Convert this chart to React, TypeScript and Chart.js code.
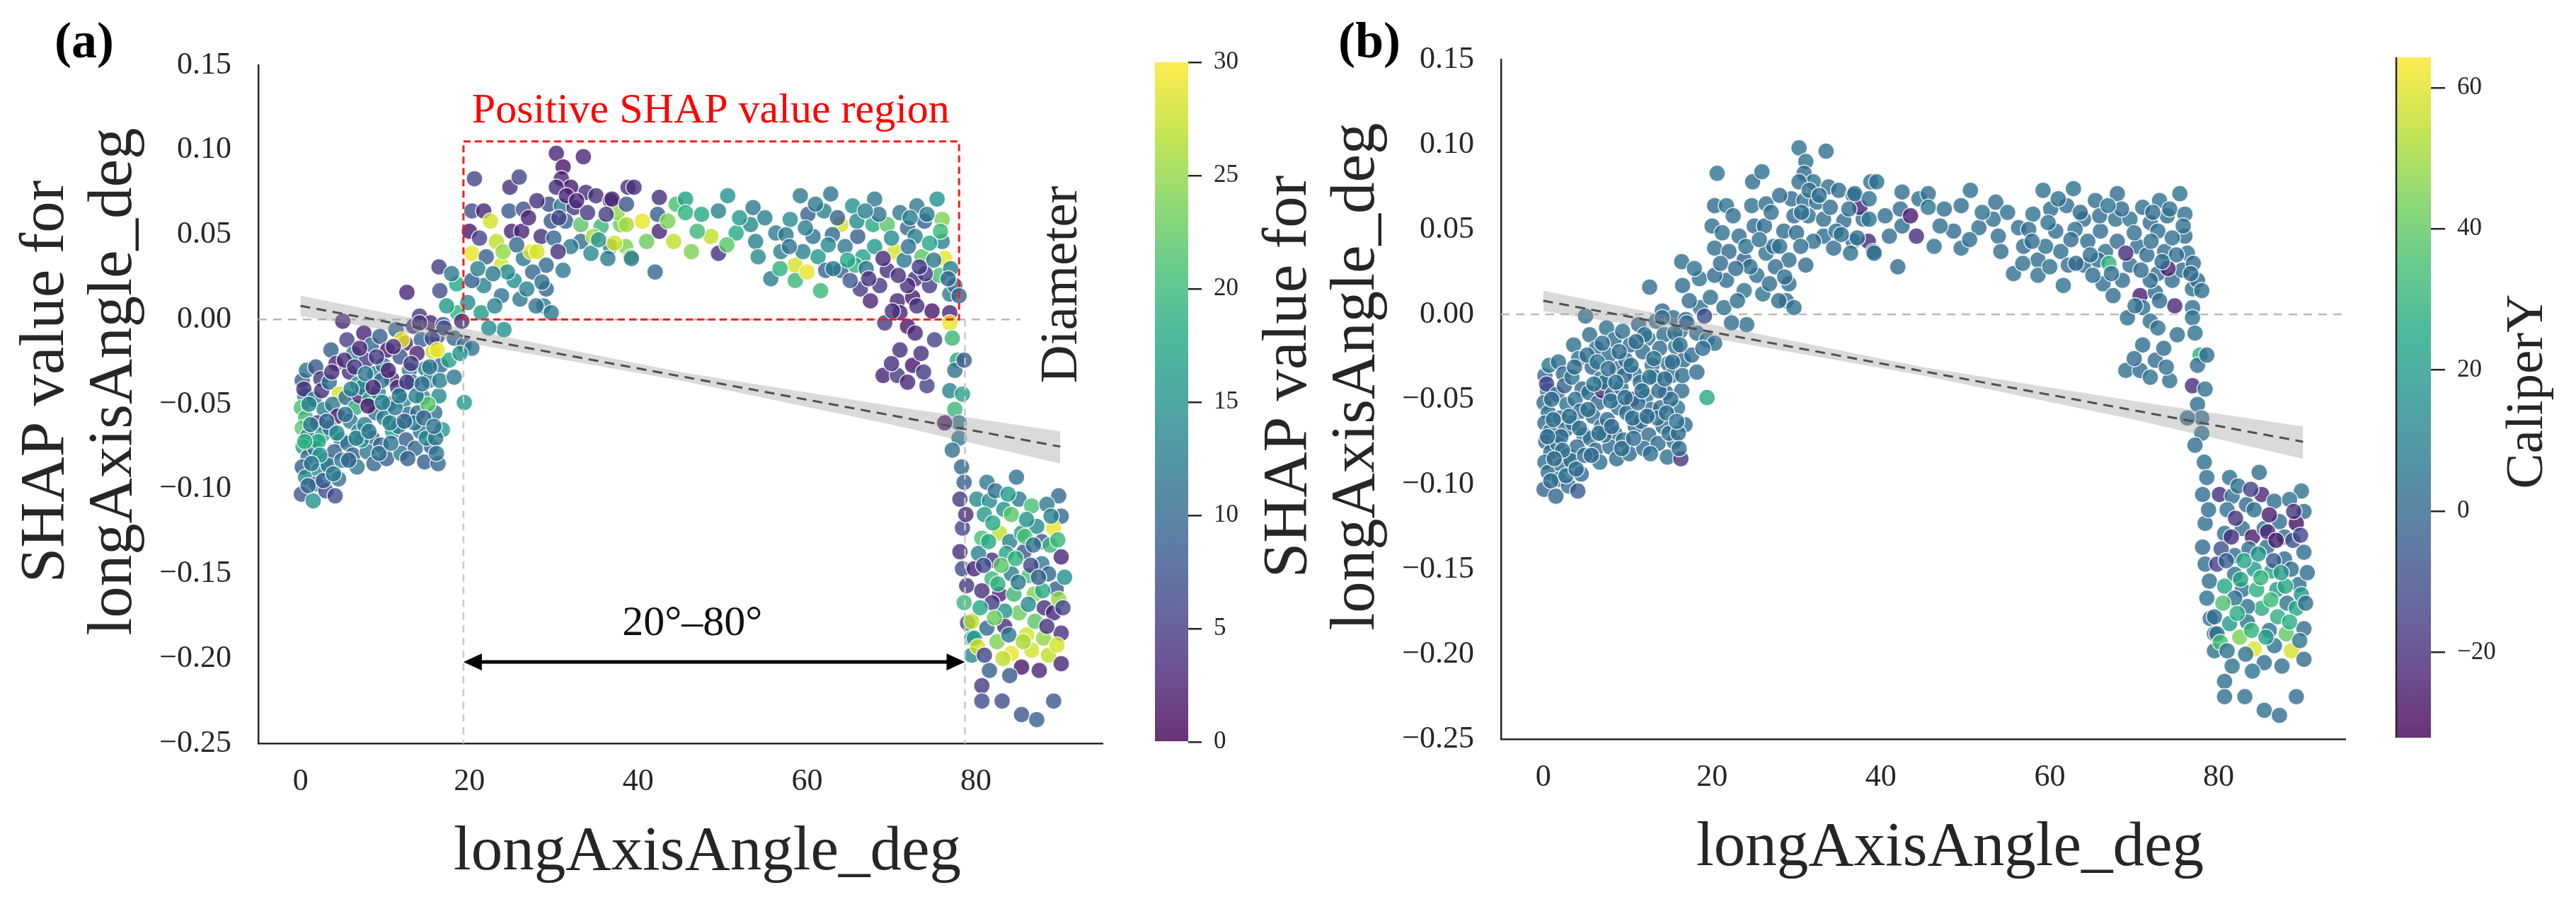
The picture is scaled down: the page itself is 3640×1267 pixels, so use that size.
import { useEffect, useRef } from 'react'
import { Chart, registerables } from 'chart.js'

Chart.register(...registerables)

const SERIF = "'Liberation Serif', 'Times New Roman', serif"
const INK = '#262626'
const PAGE_H = 1267

// rows: [longAxisAngle_deg, SHAP value, Diameter, CaliperY]
const lowAngleRows = [
  [0.2, -0.036, 9, 2], [0.5, -0.045, 14, 4], [0.1, -0.052, 21, 1], [0.6, -0.058, 20, 3], [0.2, -0.064, 22, 0],
  [0.8, -0.069, 12, 5], [0.3, -0.075, 17, 2], [0.9, -0.081, 10, 1], [0.2, -0.087, 9, 3], [0.6, -0.093, 14, 2],
  [0.1, -0.103, 8, 0], [0.7, -0.030, 11, 6], [0.4, -0.041, 4, -12],
  [1.8, -0.028, 8, 3], [2.4, -0.035, 5, 1], [1.6, -0.047, 12, 2], [2.8, -0.053, 13, 4], [2.0, -0.061, 3, 0],
  [2.6, -0.068, 16, 2], [1.7, -0.076, 12, 5], [2.9, -0.083, 11, 1], [2.2, -0.089, 14, 3], [1.9, -0.097, 10, 2],
  [1.5, -0.107, 15, 0], [3.0, -0.101, 7, 4], [2.5, -0.042, 4, -2],
  [3.6, -0.018, 9, 3], [4.2, -0.026, 3, 2], [3.4, -0.037, 11, 5], [4.6, -0.044, 28, 1], [3.8, -0.050, 12, 4],
  [4.4, -0.057, 2, 0], [3.5, -0.064, 10, 3], [4.8, -0.071, 13, 2], [4.0, -0.078, 9, 1], [3.3, -0.086, 12, 3],
  [4.5, -0.094, 11, 2], [4.1, -0.104, 7, -5], [5.0, -0.001, 3, 4],
  [5.5, -0.012, 6, 2], [6.3, -0.020, 13, 3], [5.8, -0.031, 4, 1], [6.8, -0.038, 15, 5], [5.4, -0.046, 10, 2],
  [6.5, -0.052, 19, 0], [5.9, -0.060, 12, 3], [6.9, -0.066, 14, 2], [5.6, -0.073, 11, 4], [6.2, -0.080, 9, 1],
  [6.7, -0.087, 12, 3], [7.0, -0.045, 3, -20],
  [7.5, -0.008, 3, 4], [8.4, -0.015, 10, 2], [7.8, -0.024, 5, 3], [8.8, -0.032, 12, 1], [7.3, -0.040, 14, 5],
  [8.2, -0.047, 18, 2], [8.9, -0.055, 11, 3], [7.6, -0.062, 13, 0], [8.5, -0.070, 9, 4], [7.9, -0.078, 12, 2],
  [8.7, -0.085, 10, 1],
  [9.4, -0.010, 9, 3], [10.3, -0.018, 2, 1], [9.8, -0.027, 12, 2], [10.8, -0.035, 4, 4], [9.2, -0.043, 14, 3],
  [10.5, -0.050, 8, -24], [9.9, -0.058, 12, 2], [10.9, -0.066, 16, 1], [9.5, -0.074, 10, 3], [10.2, -0.082, 9, 2],
  [11.3, -0.006, 10, 2], [12.4, -0.014, 3, 4], [11.8, -0.022, 8, 1], [12.9, -0.030, 12, 3], [11.5, -0.040, 4, 2],
  [12.2, -0.048, 14, 5], [12.8, -0.056, 11, 0], [11.6, -0.063, 13, 3], [12.5, -0.071, 9, 2], [11.9, -0.079, 12, 1],
  [12.0, -0.012, 29, 4],
  [13.4, -0.004, 4, 3], [14.3, -0.012, 9, 2], [13.8, -0.020, 3, 1], [14.8, -0.029, 12, 4], [13.2, -0.037, 10, 2],
  [14.5, -0.046, 13, -3], [13.9, -0.055, 11, 3], [14.2, -0.066, 12, 1], [13.6, -0.076, 10, 2], [14.7, -0.084, 9, 4],
  [14.1, 0.002, 5, 2],
  [15.4, -0.002, 3, 3], [16.2, -0.010, 8, 2], [15.7, -0.019, 27, 4], [16.6, -0.027, 10, 1], [15.2, -0.036, 12, 3],
  [16.4, -0.045, 14, 2], [15.9, -0.055, 11, 5], [16.8, -0.065, 16, 1], [15.5, -0.075, 9, 3], [16.3, -0.085, 10, -18],
  [16.9, -0.003, 9, 2],
  [1.0, -0.050, 13, 2], [2.1, -0.072, 18, 1], [3.1, -0.060, 10, 3], [4.9, -0.083, 12, 2], [6.0, -0.041, 13, 4],
  [7.2, -0.071, 15, 2], [8.0, -0.051, 2, 3], [9.6, -0.036, 11, 1], [10.6, -0.061, 13, 3], [11.2, -0.052, 12, 2],
  [12.6, -0.037, 5, 4], [13.5, -0.061, 12, 1], [14.9, -0.070, 13, 3], [16.0, -0.070, 12, 2], [15.1, -0.050, 22, 1],
  [2.3, -0.080, 16, 4], [0.9, -0.098, 10, 2], [5.2, -0.024, 4, 3], [7.0, -0.017, 3, 2], [9.0, -0.022, 5, 1],
  [0.5, -0.072, 19, 2], [1.2, -0.062, 13, 3], [1.3, -0.085, 12, 1], [2.7, -0.095, 9, 4], [3.9, -0.091, 12, 2],
  [4.3, -0.067, 14, 3], [5.3, -0.056, 11, 1], [5.7, -0.083, 10, 2], [6.4, -0.028, 5, 4], [6.6, -0.070, 13, 3],
  [7.7, -0.032, 12, 2], [8.1, -0.066, 12, 1], [8.6, -0.040, 3, 3], [9.3, -0.079, 11, 2], [9.7, -0.049, 13, 4],
  [10.4, -0.030, 3, 3], [10.7, -0.073, 11, 2], [11.0, -0.016, 4, 1], [11.7, -0.045, 12, 3], [12.3, -0.060, 10, 2],
  [12.7, -0.082, 9, 4], [13.1, -0.026, 5, 3], [13.7, -0.045, 13, 2], [14.4, -0.038, 11, 1], [14.6, -0.058, 10, 3],
  [15.3, -0.028, 12, 2], [15.8, -0.063, 11, 4], [16.5, -0.036, 13, 3], [16.1, -0.079, 12, 2], [3.7, -0.031, 4, 1],
]

const transitionRows = [
  [12.6, 0.016, 3, 2], [16.4, 0.031, 5, 3], [16.5, 0.017, 7, 2], [18.5, 0.021, 18, 4], [18.6, 0.004, 19, 3],
  [19.1, -0.001, 4, -10], [14.1, -0.002, 4, 2], [15.6, -0.011, 6, 3], [17.0, -0.005, 7, 1], [18.2, -0.011, 10, 2],
  [19.4, -0.015, 9, 4], [20.3, -0.017, 11, 3], [17.6, -0.024, 17, 2], [18.2, -0.034, 12, 1], [19.4, -0.049, 16, 26],
  [16.2, -0.018, 29, 3], [17.3, 0.008, 16, 2], [17.9, 0.027, 12, 4], [19.8, 0.010, 14, 3], [18.9, -0.020, 15, 2],
]

const risingRows = [
  [20.6, 0.083, 6, 4], [24.8, 0.078, 4, 2], [25.9, 0.084, 6, 3], [20.3, 0.064, 7, 1], [21.7, 0.064, 3, 5],
  [20.0, 0.052, 2, 3], [25.0, 0.052, 3, 2], [26.2, 0.052, 3, 1], [24.7, 0.064, 8, 4], [26.4, 0.065, 7, 3],
  [28.5, 0.049, 4, 2], [23.8, 0.032, 28, -2], [20.3, 0.039, 29, 3], [22.0, 0.037, 9, 1], [26.4, 0.036, 12, 4],
  [27.3, 0.040, 29, 2], [29.1, 0.032, 10, 3], [31.1, 0.029, 12, 1], [21.7, 0.020, 13, 2], [25.3, 0.023, 15, 3],
  [23.8, 0.014, 11, 4], [29.1, 0.018, 10, 2], [28.8, 0.008, 13, 1], [29.7, 0.004, 12, 3], [27.9, 0.008, 11, 2],
  [21.4, 0.004, 16, 4], [24.1, -0.006, 15, 3], [22.3, -0.005, 14, 2], [20.3, 0.023, 9, 1], [30.3, 0.098, 3, 4],
  [33.5, 0.096, 3, 2], [31.1, 0.090, 2, 3], [30.9, 0.083, 3, 1], [32.0, 0.078, 2, 5], [30.3, 0.078, 4, 2],
  [33.8, 0.075, 4, 3], [35.0, 0.073, 4, 1], [36.7, 0.070, 4, 2], [38.8, 0.078, 4, 3], [29.4, 0.068, 7, 2],
  [30.9, 0.067, 12, 4], [32.4, 0.066, 5, 3], [29.7, 0.058, 8, 1], [31.4, 0.058, 9, 2], [33.2, 0.056, 22, 3],
  [35.6, 0.055, 20, 2], [37.9, 0.056, 23, 4], [33.2, 0.046, 11, 1], [34.7, 0.049, 26, 3], [36.7, 0.043, 13, 2],
  [38.5, 0.043, 24, -22], [32.0, 0.043, 12, 3], [34.4, 0.039, 14, 2], [36.4, 0.036, 12, 4], [39.1, 0.037, 23, 2],
  [22.5, 0.058, 28, 3], [23.2, 0.046, 27, 2], [27.0, 0.060, 3, 4], [28.0, 0.070, 4, 1], [21.0, 0.030, 13, 2],
  [24.5, 0.028, 14, 3], [27.5, 0.028, 10, 2], [30.0, 0.048, 10, 1], [26.0, 0.012, 12, 4], [23.0, 0.008, 13, 2],
  [31.5, 0.073, 3, 3], [34.0, 0.063, 5, 2], [37.5, 0.063, 25, -24], [28.0, 0.040, 28, 3], [30.5, 0.040, 4, 2],
  [21.2, 0.048, 6, 3], [22.8, 0.027, 12, 2], [24.0, 0.040, 25, 4], [25.6, 0.044, 10, 3], [26.8, 0.018, 13, 2],
  [28.6, 0.022, 11, 1], [30.6, 0.060, 6, 3], [32.7, 0.070, 3, 2], [35.3, 0.047, 15, 4], [36.2, 0.062, 5, 3],
]

const plateauRows = [
  [39.5, 0.078, 4, 3], [36.9, 0.071, 3, 2], [38.6, 0.068, 8, 4], [42.5, 0.072, 4, 3], [42.3, 0.062, 9, 2],
  [42.5, 0.052, 3, 1], [44.5, 0.068, 21, 3], [45.6, 0.071, 17, 2], [45.6, 0.063, 19, 5], [47.5, 0.062, 18, 3],
  [49.5, 0.064, 13, 2], [50.6, 0.073, 15, 4], [49.5, 0.039, 4, 3], [48.6, 0.049, 27, 2], [44.2, 0.046, 27, -20],
  [46.3, 0.040, 24, 3], [41.0, 0.046, 23, 2], [38.6, 0.056, 26, 4], [37.2, 0.045, 28, 3], [39.2, 0.036, 12, 2],
  [42.0, 0.028, 10, 1], [51.6, 0.051, 18, 3], [53.6, 0.066, 12, 2], [53.3, 0.056, 14, 4], [53.9, 0.046, 13, 3],
  [54.2, 0.037, 14, 2], [55.7, 0.024, 12, 3], [40.5, 0.058, 29, 2], [43.5, 0.058, 24, -25], [47.0, 0.052, 20, 3],
  [52.0, 0.060, 16, 4], [50.5, 0.044, 22, 2], [55.0, 0.060, 13, 3],
]

const highPlateauRows = [
  [56.3, 0.051, 12, 3], [56.9, 0.040, 13, 2], [58.0, 0.059, 14, 4], [59.2, 0.073, 12, 3], [60.1, 0.062, 9, 2],
  [60.7, 0.049, 11, 1], [61.3, 0.037, 16, 3], [58.6, 0.032, 28, 2], [58.6, 0.023, 20, 4], [61.6, 0.017, 20, 3],
  [62.2, 0.029, 10, 2], [62.8, 0.074, 11, 4], [64.0, 0.056, 28, 3], [64.5, 0.043, 12, 2], [64.0, 0.029, 9, 1],
  [65.4, 0.067, 15, 3], [66.0, 0.049, 9, 2], [66.6, 0.037, 17, 4], [66.3, 0.018, 5, 3], [68.0, 0.071, 12, 2],
  [67.8, 0.056, 18, 3], [68.0, 0.043, 16, 1], [67.5, 0.011, 3, 2], [69.5, 0.056, 22, 4], [69.5, 0.029, 4, 3],
  [68.6, 0.020, 5, 2], [70.4, 0.040, 28, 3], [70.7, 0.011, 3, -24], [71.9, 0.054, 10, 2], [73.0, 0.067, 12, 4],
  [72.8, 0.049, 13, 3], [72.8, 0.024, 4, 2], [72.5, 0.013, 2, 1], [73.6, 0.037, 22, 3], [73.9, 0.058, 9, 2],
  [75.4, 0.071, 15, 4], [76.0, 0.059, 24, 3], [76.0, 0.046, 13, 2], [76.3, 0.036, 29, 3], [74.5, 0.020, 5, 2],
  [75.7, 0.026, 21, 1], [76.9, 0.015, 12, 3], [77.5, 0.020, 11, 2], [78.0, 0.014, 9, 4], [76.9, 0.004, 3, 3],
  [74.8, 0.005, 2, -22], [73.0, 0.008, 4, 2], [71.9, 0.020, 4, 1], [71.0, 0.004, 3, 3], [69.2, -0.002, 5, 2],
  [70.1, 0.005, 4, 4], [65.7, 0.032, 19, 3], [65.1, 0.023, 8, 2], [63.1, 0.030, 12, 1], [59.5, 0.040, 13, 3],
  [57.5, 0.050, 12, 2], [60.0, 0.028, 29, 4], [63.0, 0.050, 10, 3], [62.0, 0.064, 13, 2], [67.0, 0.030, 11, 30],
  [70.0, 0.048, 14, 3], [71.5, 0.035, 12, 2], [74.5, 0.045, 18, 4], [75.0, 0.035, 12, 3], [77.0, 0.030, 13, 2],
  [68.5, 0.062, 11, 1], [71.0, 0.063, 12, 3], [74.0, 0.027, 5, -25],
  [56.8, 0.030, 19, 3], [57.9, 0.043, 11, 2], [59.8, 0.054, 13, 4], [61.0, 0.068, 12, 3], [62.5, 0.044, 14, 2],
  [63.6, 0.060, 9, 1], [64.8, 0.035, 18, 3], [65.9, 0.058, 14, 2], [66.9, 0.064, 13, 4], [67.3, 0.024, 4, 3],
  [69.0, 0.036, 3, -20], [70.8, 0.026, 4, 2], [72.0, 0.043, 11, 3], [73.3, 0.031, 5, 2], [74.2, 0.062, 12, 4],
  [75.8, 0.052, 20, 3], [76.7, 0.024, 10, 2], [72.2, 0.060, 13, 1],
]

const dropRows = [
  [71.0, -0.018, 4, 2], [69.0, -0.033, 3, 3], [70.7, -0.033, 5, 2], [71.9, -0.037, 3, 4], [74.2, -0.039, 6, 3],
  [72.5, -0.027, 2, 2], [73.5, -0.020, 4, 1], [75.1, -0.012, 6, 3], [71.9, -0.004, 2, 2], [72.8, -0.008, 3, 4],
  [73.8, -0.031, 5, 3], [70.0, -0.026, 4, 2],
]

const edgeColumnRows = [
  [76.9, -0.002, 29, 3], [77.2, -0.011, 20, 4], [77.8, -0.024, 18, 28], [77.5, -0.030, 11, 3], [76.9, -0.042, 13, -20],
  [77.5, -0.053, 20, 2], [78.0, -0.061, 12, 3], [76.3, -0.061, 2, 1], [78.0, -0.070, 12, 4], [77.2, -0.077, 11, 2],
  [78.3, -0.087, 10, 3], [78.6, -0.024, 8, 2], [78.4, -0.044, 17, 5], [78.6, -0.096, 9, 3], [78.1, -0.106, 5, 2],
  [78.4, -0.123, 6, 3], [78.1, -0.137, 4, 1], [78.4, -0.147, 7, 2], [78.6, -0.167, 20, 4], [79.0, -0.179, 8, 3],
  [79.5, -0.188, 16, 2], [79.5, -0.198, 14, 5], [78.8, -0.115, 4, 3], [78.9, -0.157, 5, 2],
]

const highAngleRows = [
  [81.3, -0.096, 12, 3], [84.8, -0.093, 11, 2], [89.8, -0.104, 10, 4], [80.1, -0.106, 14, -20], [81.6, -0.107, 14, 3],
  [83.3, -0.112, 15, 2], [85.1, -0.106, 12, -22], [86.6, -0.110, 21, 1], [88.4, -0.109, 12, 3], [90.1, -0.116, 10, 2],
  [81.0, -0.115, 16, 4], [84.2, -0.115, 22, 3], [89.2, -0.123, 29, -28], [80.7, -0.129, 21, 2], [82.8, -0.126, 27, 3],
  [84.0, -0.131, 13, -25], [85.4, -0.126, 17, 4], [87.2, -0.122, 14, 2], [87.8, -0.131, 8, 3], [90.1, -0.140, 3, 1],
  [81.9, -0.142, 4, 2], [83.6, -0.138, 17, 3], [85.7, -0.137, 8, 4], [87.8, -0.144, 12, 2], [79.8, -0.147, 3, -15],
  [81.9, -0.153, 20, 3], [84.2, -0.150, 12, 20], [86.3, -0.151, 21, 22], [88.6, -0.150, 10, 2], [89.5, -0.159, 9, 3],
  [80.7, -0.160, 4, 25], [82.8, -0.162, 3, 3], [84.5, -0.162, 20, 28], [86.9, -0.162, 24, 20], [88.1, -0.170, 4, 5],
  [85.1, -0.173, 23, 27], [83.4, -0.172, 15, 4], [81.9, -0.167, 5, 3], [79.5, -0.178, 27, 2], [81.3, -0.182, 10, 20],
  [83.4, -0.181, 4, 5], [86.0, -0.186, 28, 3], [89.2, -0.173, 3, 24], [90.1, -0.185, 4, 2], [79.8, -0.188, 16, 3],
  [84.2, -0.197, 29, 60], [86.6, -0.195, 28, 4], [88.6, -0.198, 27, 58], [90.1, -0.203, 3, 2], [85.4, -0.205, 2, 2],
  [87.5, -0.207, 3, 3], [81.6, -0.207, 9, 4], [80.7, -0.216, 5, 2], [83.1, -0.225, 7, 3], [80.7, -0.225, 7, 2],
  [89.2, -0.225, 8, 1], [85.4, -0.233, 8, 3], [87.2, -0.236, 9, 2], [82.0, -0.120, 18, -18], [86.0, -0.118, 15, -24],
  [88.8, -0.133, 20, -10], [83.0, -0.145, 22, 25], [85.0, -0.155, 12, 30], [87.0, -0.178, 22, 28], [89.8, -0.165, 25, 18],
  [80.5, -0.170, 18, 36], [82.5, -0.190, 24, 45], [88.0, -0.188, 25, 40], [84.0, -0.210, 8, 4], [86.5, -0.145, 6, -5],
  [80.3, -0.138, 13, -8], [81.5, -0.131, 18, -20], [82.3, -0.101, 11, 3], [83.8, -0.103, 16, -15], [85.8, -0.128, 21, -22],
  [86.8, -0.133, 11, -26], [88.9, -0.116, 13, -18], [89.7, -0.130, 20, -12], [90.5, -0.152, 15, 3], [80.2, -0.193, 28, 35],
  [81.0, -0.198, 6, 4], [82.2, -0.176, 23, 27], [83.9, -0.186, 12, 30], [85.6, -0.190, 26, 22], [87.9, -0.160, 18, 25],
  [88.4, -0.181, 4, 28], [89.6, -0.192, 28, 5], [90.3, -0.170, 6, 3], [84.7, -0.141, 19, 18], [86.2, -0.168, 14, 33],
  [82.6, -0.156, 19, 24], [80.9, -0.145, 7, -3], [87.4, -0.152, 9, 20], [83.2, -0.200, 27, 3],
]

const allRows = [
  ...lowAngleRows, ...transitionRows, ...risingRows, ...plateauRows,
  ...highPlateauRows, ...dropRows, ...edgeColumnRows, ...highAngleRows,
]

const angleTicks = [0, 20, 40, 60, 80]
const shapTicks = [-0.25, -0.2, -0.15, -0.1, -0.05, 0, 0.05, 0.1, 0.15]
const diameterTicks = [0, 5, 10, 15, 20, 25, 30]
const caliperTicks = [-20, 0, 20, 40, 60]
const diameterRange = [0, 30]
const caliperRange = [-32.1, 64.3]

// linear fit and its confidence band
const trendAngle = [0, 90]
const trendShap = [0.008, -0.075]
const bandAngle = [0, 20, 45, 70, 90]
const bandUpper = [0.014, -0.006, -0.031, -0.051, -0.066]
const bandLower = [0.002, -0.014, -0.036, -0.062, -0.085]

// annotations in panel (a)
const regionStart = 19.3
const regionEnd = 78.7
const regionBoxRight = 78.0
const regionBoxTop = 0.105
const arrowShap = -0.202
const zeroLineEndA = 85.3

const viridisStops = [
  [68, 1, 84], [72, 36, 117], [65, 68, 135], [53, 95, 141], [42, 120, 142], [33, 145, 140],
  [34, 168, 132], [68, 191, 112], [122, 209, 81], [189, 223, 38], [253, 231, 37],
]

function viridis(t: number, alpha: number) {
  const s = Math.min(Math.max(t, 0), 1) * (viridisStops.length - 1)
  const i = Math.min(Math.floor(s), viridisStops.length - 2)
  const f = s - i
  const c = viridisStops[i].map((v, k) => Math.round(v + (viridisStops[i + 1][k] - v) * f))
  return `rgba(${c[0]},${c[1]},${c[2]},${alpha})`
}

const fmtShap = (v: number) => (v < 0 ? '\u2212' : '') + Math.abs(v).toFixed(2)
const fmtInt = (v: number) => (v < 0 ? '\u2212' : '') + Math.abs(v)

const toXY = (xs: number[], ys: number[]) => xs.map((x, i) => ({ x, y: ys[i] }))

interface PanelProps {
  left: number
  letter: string
  letterX: number
  colorIndex: number
  range: number[]
  areaTop: number
  areaBottom: number
  showRegion: boolean
}

function ShapPanel({ left, letter, letterX, colorIndex, range, areaTop, areaBottom, showRegion }: PanelProps) {
  const canvasRef = useRef<HTMLCanvasElement>(null)
  const chartRef = useRef<Chart | null>(null)
  const W = 1600
  const areaLeft = 365
  const areaRight = 1558

  useEffect(() => {
    if (!canvasRef.current) return

    const datasets: any[] = [
      {
        type: 'line',
        data: [{ x: -5, y: 0 }, { x: showRegion ? zeroLineEndA : 95, y: 0 }],
        borderColor: '#b8b8b8', borderWidth: 2.5, borderDash: [12, 9], pointRadius: 0, order: 4
      },
      {
        type: 'scatter',
        data: allRows.map(r => ({ x: r[0], y: r[1] })),
        pointBackgroundColor: allRows.map(r => viridis((r[colorIndex] - range[0]) / (range[1] - range[0]), 0.8)),
        pointBorderColor: 'rgba(255,255,255,0.85)',
        pointBorderWidth: 1.5,
        pointRadius: 11.5,
        order: 3
      },
      {
        type: 'line', data: toXY(bandAngle, bandUpper),
        borderColor: 'transparent', borderWidth: 0, pointRadius: 0, fill: false, order: 2
      },
      {
        type: 'line', data: toXY(bandAngle, bandLower),
        borderColor: 'transparent', borderWidth: 0, pointRadius: 0, fill: '-1',
        backgroundColor: 'rgba(150,150,150,0.35)', order: 2
      },
      {
        type: 'line', data: toXY(trendAngle, trendShap),
        borderColor: '#505050', borderWidth: 3, borderDash: [14, 9], pointRadius: 0, order: 1
      }
    ]
    if (showRegion) {
      for (const v of [regionStart, regionEnd]) {
        datasets.push({
          type: 'line', data: [{ x: v, y: 0 }, { x: v, y: -0.25 }],
          borderColor: '#c8c8c8', borderWidth: 2.5, borderDash: [10, 8], pointRadius: 0, order: 0
        })
      }
    }

    const decor = {
      id: 'decor',
      afterDatasetsDraw(chart: any) {
        if (!showRegion) return
        const { ctx } = chart
        const x = chart.scales.x
        const y = chart.scales.y
        ctx.save()
        // red dashed region box
        const bx0 = x.getPixelForValue(regionStart)
        const bx1 = x.getPixelForValue(regionBoxRight)
        const by0 = y.getPixelForValue(regionBoxTop)
        const by1 = y.getPixelForValue(0)
        ctx.strokeStyle = '#ff1a1a'
        ctx.lineWidth = 3
        ctx.setLineDash([10, 6])
        ctx.strokeRect(bx0, by0, bx1 - bx0, by1 - by0)
        // double-headed arrow
        ctx.setLineDash([])
        const ax0 = x.getPixelForValue(regionStart)
        const ax1 = x.getPixelForValue(regionEnd)
        const ay = y.getPixelForValue(arrowShap)
        const head = 26
        const half = 12
        ctx.strokeStyle = '#000'
        ctx.lineWidth = 5
        ctx.beginPath()
        ctx.moveTo(ax0 + head - 2, ay)
        ctx.lineTo(ax1 - head + 2, ay)
        ctx.stroke()
        ctx.fillStyle = '#000'
        ctx.beginPath()
        ctx.moveTo(ax0, ay); ctx.lineTo(ax0 + head, ay - half); ctx.lineTo(ax0 + head, ay + half)
        ctx.closePath(); ctx.fill()
        ctx.beginPath()
        ctx.moveTo(ax1, ay); ctx.lineTo(ax1 - head, ay - half); ctx.lineTo(ax1 - head, ay + half)
        ctx.closePath(); ctx.fill()
        // texts
        ctx.font = `60px ${SERIF}`
        ctx.textBaseline = 'alphabetic'
        ctx.textAlign = 'left'
        ctx.fillStyle = '#ff0000'
        ctx.fillText('Positive SHAP value region', x.getPixelForValue(20.3), y.getPixelForValue(0.116))
        ctx.textAlign = 'center'
        ctx.fillStyle = '#111'
        ctx.fillText('20°–80°', x.getPixelForValue(46.4), y.getPixelForValue(-0.186))
        ctx.restore()
      },
      afterDraw(chart: any) {
        const { ctx, chartArea } = chart
        ctx.save()
        ctx.fillStyle = INK
        ctx.textBaseline = 'alphabetic'
        ctx.textAlign = 'center'
        ctx.font = `89px ${SERIF}`
        ctx.fillText('longAxisAngle_deg', (chartArea.left + chartArea.right) / 2 + 38, chartArea.bottom + 178)
        const yc = (chartArea.top + chartArea.bottom) / 2 - 32
        const lines = ['SHAP value for', 'longAxisAngle_deg']
        const baselines = [chartArea.left - 276, chartArea.left - 180]
        lines.forEach((t, i) => {
          ctx.save()
          ctx.translate(baselines[i], yc)
          ctx.rotate(-Math.PI / 2)
          ctx.fillText(t, 0, 0)
          ctx.restore()
        })
        if (showRegion) {
          ctx.save()
          ctx.font = `75px ${SERIF}`
          ctx.translate(1521, 402)
          ctx.rotate(-Math.PI / 2)
          ctx.fillText('Diameter', 0, 0)
          ctx.restore()
        }
        ctx.textAlign = 'left'
        ctx.fillStyle = '#000'
        ctx.font = `bold 72px ${SERIF}`
        ctx.fillText(letter, letterX, 81)
        ctx.restore()
      }
    }

    const config: any = {
      type: 'scatter',
      data: { datasets },
      options: {
        animation: false,
        responsive: true,
        maintainAspectRatio: false,
        events: [],
        layout: { padding: { top: areaTop, right: W - areaRight, left: 0, bottom: 0 } },
        plugins: { legend: { display: false }, tooltip: { enabled: false } },
        scales: {
          x: {
            type: 'linear',
            min: -5,
            max: 95,
            afterBuildTicks: (s: any) => { s.ticks = angleTicks.map(v => ({ value: v })) },
            afterFit: (s: any) => { s.height = PAGE_H - areaBottom },
            grid: { display: false, drawTicks: false },
            border: { display: true, color: INK, width: 2.5 },
            ticks: { padding: 28, color: INK, font: { family: SERIF, size: 44 }, callback: (v: number) => String(v) }
          },
          y: {
            type: 'linear',
            min: -0.25,
            max: 0.15,
            afterBuildTicks: (s: any) => { s.ticks = shapTicks.map(v => ({ value: v })) },
            afterFit: (s: any) => { s.width = areaLeft },
            grid: { display: false, drawTicks: false },
            border: { display: true, color: INK, width: 2.5 },
            ticks: { padding: 38, color: INK, font: { family: SERIF, size: 44 }, callback: (v: number) => fmtShap(v) }
          }
        }
      },
      plugins: [decor]
    }

    if (chartRef.current) chartRef.current.destroy()
    chartRef.current = new Chart(canvasRef.current, config)

    return () => {
      if (chartRef.current) {
        chartRef.current.destroy()
        chartRef.current = null
      }
    }
  }, [left, letter, letterX, colorIndex, range, areaTop, areaBottom, showRegion])

  return (
    <div style={{ position: 'absolute', left, top: 0, width: W, height: PAGE_H }}>
      <canvas ref={canvasRef} />
    </div>
  )
}

interface ColorBarProps {
  left: number
  width: number
  areaLeft: number
  areaRight: number
  areaTop: number
  areaBottom: number
  range: number[]
  ticks: number[]
  tickLength: number
  label?: string
  labelX?: number
  labelY?: number
  edgeLine: boolean
}

function ColorBar({ left, width, areaLeft, areaRight, areaTop, areaBottom, range, ticks, tickLength, label, labelX, labelY, edgeLine }: ColorBarProps) {
  const canvasRef = useRef<HTMLCanvasElement>(null)
  const chartRef = useRef<Chart | null>(null)

  useEffect(() => {
    if (!canvasRef.current) return

    const barDecor = {
      id: 'barDecor',
      afterDraw(chart: any) {
        const { ctx, chartArea } = chart
        ctx.save()
        if (edgeLine) {
          ctx.strokeStyle = INK
          ctx.lineWidth = 2.5
          ctx.beginPath()
          ctx.moveTo(chartArea.left, chartArea.top)
          ctx.lineTo(chartArea.left, chartArea.bottom)
          ctx.stroke()
        }
        if (label) {
          ctx.fillStyle = INK
          ctx.font = `75px ${SERIF}`
          ctx.textAlign = 'center'
          ctx.textBaseline = 'alphabetic'
          ctx.translate(labelX, labelY)
          ctx.rotate(-Math.PI / 2)
          ctx.fillText(label, 0, 0)
        }
        ctx.restore()
      }
    }

    const config: any = {
      type: 'bar',
      data: {
        labels: [''],
        datasets: [{
          data: [[range[0], range[1]]],
          backgroundColor: (c: any) => {
            const area = c.chart.chartArea
            if (!area) return 'transparent'
            const g = c.chart.ctx.createLinearGradient(0, area.bottom, 0, area.top)
            viridisStops.forEach((_, i) => {
              const t = i / (viridisStops.length - 1)
              g.addColorStop(t, viridis(t, 0.8))
            })
            return g
          },
          borderWidth: 0,
          barPercentage: 1,
          categoryPercentage: 1
        }]
      },
      options: {
        animation: false,
        responsive: true,
        maintainAspectRatio: false,
        events: [],
        layout: { padding: { left: areaLeft, top: areaTop, bottom: PAGE_H - areaBottom, right: 0 } },
        plugins: { legend: { display: false }, tooltip: { enabled: false } },
        scales: {
          x: { display: false },
          y: {
            position: 'right',
            min: range[0],
            max: range[1],
            afterBuildTicks: (s: any) => { s.ticks = ticks.map(v => ({ value: v })) },
            afterFit: (s: any) => { s.width = width - areaRight },
            grid: { display: true, drawOnChartArea: false, drawTicks: true, tickLength, color: INK, lineWidth: 2.5 },
            border: { display: false },
            ticks: { padding: 17, color: INK, font: { family: SERIF, size: 35 }, callback: (v: number) => fmtInt(v) }
          }
        }
      },
      plugins: [barDecor]
    }

    if (chartRef.current) chartRef.current.destroy()
    chartRef.current = new Chart(canvasRef.current, config)

    return () => {
      if (chartRef.current) {
        chartRef.current.destroy()
        chartRef.current = null
      }
    }
  }, [left, width, areaLeft, areaRight, areaTop, areaBottom, range, ticks, tickLength, label, labelX, labelY, edgeLine])

  return (
    <div style={{ position: 'absolute', left, top: 0, width, height: PAGE_H }}>
      <canvas ref={canvasRef} />
    </div>
  )
}

export default function App() {
  return (
    <div style={{ position: 'absolute', left: 0, top: 0, width: 3640, height: PAGE_H, background: '#fff', overflow: 'hidden' }}>
      <ShapPanel left={0} letter="(a)" letterX={77} colorIndex={2} range={diameterRange} areaTop={92} areaBottom={1050} showRegion={true} />
      <ColorBar left={1600} width={156} areaLeft={32} areaRight={79} areaTop={88} areaBottom={1048}
        range={diameterRange} ticks={diameterTicks} tickLength={19} edgeLine={false} />
      <ShapPanel left={1756} letter="(b)" letterX={135} colorIndex={3} range={caliperRange} areaTop={84} areaBottom={1044} showRegion={false} />
      <ColorBar left={3356} width={284} areaLeft={30} areaRight={79} areaTop={81} areaBottom={1042}
        range={caliperRange} ticks={caliperTicks} tickLength={20} label="CaliperY" labelX={236} labelY={553} edgeLine={true} />
    </div>
  )
}
